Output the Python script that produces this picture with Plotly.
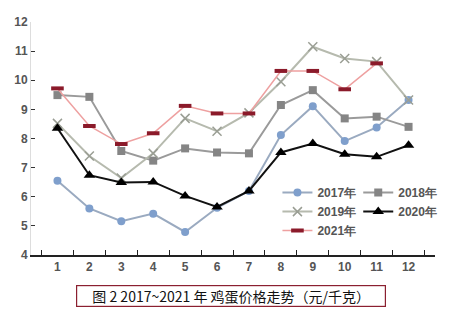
import plotly.graph_objects as go

months = [str(i) for i in range(1, 13)]
p2017 = [6.55, 5.60, 5.16, 5.42, 4.79, 5.62, 6.20, 8.12, 9.11, 7.91, 8.38, 9.32]
p2018 = [9.49, 9.43, 7.57, 7.24, 7.66, 7.52, 7.49, 9.15, 9.66, 8.69, 8.75, 8.40]
p2019 = [8.52, 7.40, 6.64, 7.49, 8.69, 8.25, 8.88, 9.95, 11.15, 10.75, 10.64, 9.32]
p2020 = [8.35, 6.74, 6.49, 6.51, 6.03, 5.65, 6.20, 7.52, 7.83, 7.46, 7.37, 7.77]
p2021 = [9.72, 8.43, 7.81, 8.18, 9.12, 8.86, 8.86, 10.32, 10.32, 9.69, 10.58]

fig = go.Figure()
fig.add_trace(go.Scatter(x=months, y=p2017, name="2017年", mode="lines+markers",
    line=dict(color="#9aaac0", width=2),
    marker=dict(symbol="circle", size=8, color="#7f9fcc"), legend="legend"))
fig.add_trace(go.Scatter(x=months, y=p2018, name="2018年", mode="lines+markers",
    line=dict(color="#9a9a9a", width=2),
    marker=dict(symbol="square", size=8, color="#858585"), legend="legend2"))
fig.add_trace(go.Scatter(x=months, y=p2019, name="2019年", mode="lines+markers",
    line=dict(color="#b6baae", width=2),
    marker=dict(symbol="x-thin", size=9, color="#a0a49a", line=dict(width=1.5, color="#9a9e94")), legend="legend"))
fig.add_trace(go.Scatter(x=months, y=p2020, name="2020年", mode="lines+markers",
    line=dict(color="#111111", width=2),
    marker=dict(symbol="triangle-up", size=10, color="#000000"), legend="legend2"))
fig.add_trace(go.Scatter(x=months[:len(p2021)], y=p2021, name="2021年", mode="lines+markers",
    line=dict(color="#eea0a0", width=1.5),
    marker=dict(symbol="line-ew", size=9, color="#8b1a2a", line=dict(width=4, color="#8b1a2a")), legend="legend"))

legfont = dict(family="Liberation Sans", size=12, color="#555555", weight="bold")
fig.update_layout(
    width=450, height=314,
    margin=dict(l=31, r=8, t=22, b=59),
    paper_bgcolor="white", plot_bgcolor="white",
    showlegend=True,
    legend=dict(x=0.61, y=0.33, xanchor="left", yanchor="top", font=legfont,
                bgcolor="rgba(0,0,0,0)", tracegroupgap=0, itemwidth=30),
    legend2=dict(x=0.81, y=0.33, xanchor="left", yanchor="top", font=legfont,
                 bgcolor="rgba(0,0,0,0)", tracegroupgap=0, itemwidth=30),
    xaxis=dict(type="category", tickson="boundaries", ticks="inside", ticklen=5,
               tickcolor="#222", showline=True, linecolor="#222", linewidth=1.5,
               showgrid=False, zeroline=False,
               tickfont=dict(family="Liberation Sans", size=12, color="#555555", weight="bold")),
    yaxis=dict(range=[4, 12], dtick=1, ticks="inside", ticklen=4, tickcolor="#333",
               showline=True, linecolor="#dddddd", linewidth=1, showgrid=False, zeroline=False,
               tickfont=dict(family="Liberation Sans", size=12, color="#555555", weight="bold")),
    annotations=[dict(text="\u00a0图 2 2017~2021 年 鸡蛋价格走势（元/千克）\u00a0", xref="paper", yref="paper",
                      x=0.495, y=-0.175, xanchor="center", yanchor="middle", showarrow=False,
                      font=dict(family="Noto Sans CJK SC", size=14, color="#111111"),
                      bordercolor="#8b2030", borderwidth=1.2, borderpad=0, bgcolor="white",
                      width=308, align="center")],
)
fig.write_html("out.html")
